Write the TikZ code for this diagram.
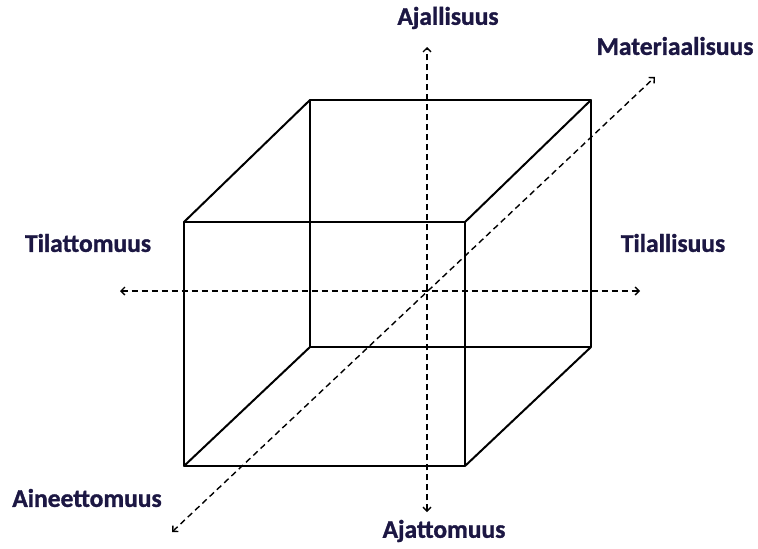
\documentclass[tikz,border=0pt]{standalone}
\usepackage{fontspec}
\setmainfont{Carlito}[BoldFeatures={FakeBold=1.2}]
\usetikzlibrary{arrows.meta}
\definecolor{labelc}{HTML}{1C1743}
\tikzset{
  edge/.style={line width=2pt, line join=round, line cap=round},
  axis/.style={line width=1.4pt, dash pattern=on 6pt off 4pt, {Straight Barb[length=4pt,width=8pt,line width=1.4pt]}-{Straight Barb[length=4pt,width=8pt,line width=1.4pt]}},
  lab/.style={font=\fontsize{25.5}{28}\selectfont\bfseries, text=labelc, inner sep=0pt}
}
\begin{document}
\begin{tikzpicture}[x=1pt,y=-1pt]
\useasboundingbox (0,0) rectangle (758,549);
% cube corners
\coordinate (f1) at (184,222);
\coordinate (f2) at (465,222);
\coordinate (f3) at (465,466);
\coordinate (f4) at (184,466);
\coordinate (b1) at (310,100);
\coordinate (b2) at (591,100);
\coordinate (b3) at (591,347);
\coordinate (b4) at (310,347);
% axis ends
\coordinate (vt) at (427,47);
\coordinate (vb) at (427,512);
\coordinate (hl) at (120,291);
\coordinate (hr) at (640,291);
\coordinate (dl) at (172,532);
\coordinate (dr) at (655,77);
% cube
\draw[edge] (f1) -- (f2) -- (f3) -- (f4) -- cycle;
\draw[edge] (b1) -- (b2) -- (b3) -- (b4) -- cycle;
\draw[edge] (f1) -- (b1);
\draw[edge] (f2) -- (b2);
\draw[edge] (f3) -- (b3);
\draw[edge] (f4) -- (b4);
% axes
\draw[axis] (vb) -- (vt);
\draw[axis] (hl) -- (hr);
\draw[axis] (dl) -- (dr);
% labels
\node[lab] (top) at (448,18) {Ajallisuus};
\node[lab] (bot) at (444,531) {Ajattomuus};
\node[lab] (left) at (88,243) {Tilattomuus};
\node[lab] (right) at (673,243) {Tilallisuus};
\node[lab] (mat) at (675,46) {Materiaalisuus};
\node[lab] (ain) at (87,498) {Aineettomuus};
\end{tikzpicture}
\end{document}
